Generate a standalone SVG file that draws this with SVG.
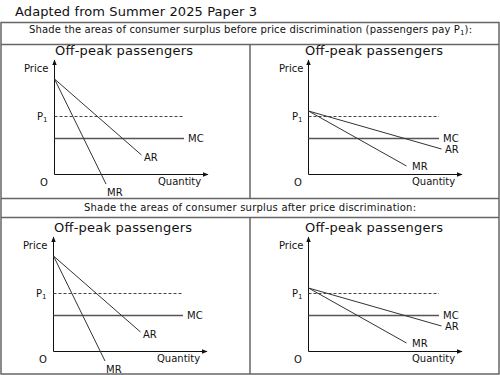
<svg xmlns="http://www.w3.org/2000/svg" width="500" height="375" viewBox="0 0 500 375">
<defs>
<style>
text{font-family:"DejaVu Sans","Liberation Sans",sans-serif;fill:#111}
.t{font-size:13px}
.h{font-size:10px}
.l{font-size:10px}
.sub{font-size:7px}
.ax{stroke:#111;stroke-width:1;fill:none}
.cv{stroke:#333;stroke-width:1;fill:none}
.mc{stroke:#555;stroke-width:1.5;fill:none}
.p1{stroke:#444;stroke-width:1;stroke-dasharray:3 2;fill:none}
.bd{stroke:#666;stroke-width:1.5;fill:none}
</style>
<marker id="arr" viewBox="0 0 10 10" refX="9" refY="5" markerWidth="6" markerHeight="6" orient="auto">
<path d="M0,1 L10,5 L0,9 z" fill="#111"/>
</marker>
<g id="chartL">
<line class="ax" x1="54.5" y1="174.5" x2="54.5" y2="60" marker-end="url(#arr)"/>
<line class="ax" x1="54.5" y1="174.5" x2="208" y2="174.5" marker-end="url(#arr)"/>
<line class="p1" x1="54.5" y1="116.5" x2="184" y2="116.5"/>
<line class="mc" x1="54.5" y1="138.5" x2="184" y2="138.5"/>
<line class="cv" x1="54.5" y1="79" x2="141.5" y2="155"/>
<line class="cv" x1="54.5" y1="79" x2="106" y2="184"/>
<text class="t" x="55" y="55" textLength="138" lengthAdjust="spacing">Off-peak passengers</text>
<text class="l" x="24" y="72">Price</text>
<text class="l" x="37" y="120">P<tspan class="sub" dy="2">1</tspan></text>
<text class="l" x="40" y="186">O</text>
<text class="l" x="158" y="185">Quantity</text>
<text class="l" x="188" y="142">MC</text>
<text class="l" x="144" y="161">AR</text>
<text class="l" x="107" y="196">MR</text>
</g>
<g id="chartR">
<line class="ax" x1="308.5" y1="174.5" x2="308.5" y2="60" marker-end="url(#arr)"/>
<line class="ax" x1="308.5" y1="174.5" x2="462" y2="174.5" marker-end="url(#arr)"/>
<line class="p1" x1="308.5" y1="116.5" x2="439" y2="116.5"/>
<line class="mc" x1="308.5" y1="138.5" x2="439" y2="138.5"/>
<line class="cv" x1="308.5" y1="111" x2="441.5" y2="149"/>
<line class="cv" x1="308.5" y1="111" x2="406.5" y2="166"/>
<text class="t" x="305" y="55" textLength="138" lengthAdjust="spacing">Off-peak passengers</text>
<text class="l" x="279" y="72">Price</text>
<text class="l" x="292" y="120">P<tspan class="sub" dy="2">1</tspan></text>
<text class="l" x="294" y="186">O</text>
<text class="l" x="412" y="185">Quantity</text>
<text class="l" x="443" y="142">MC</text>
<text class="l" x="445" y="153">AR</text>
<text class="l" x="412" y="170">MR</text>
</g>
</defs>
<rect x="0" y="0" width="500" height="375" fill="#fff"/>
<text id="title" class="t" x="15" y="16" textLength="242" lengthAdjust="spacing">Adapted from Summer 2025 Paper 3</text>
<g id="frame">
<rect class="bd" x="1" y="22.5" width="498" height="351.5"/>
<line class="bd" x1="1" y1="44.5" x2="499" y2="44.5"/>
<line class="bd" x1="1" y1="198.5" x2="499" y2="198.5"/>
<line class="bd" x1="1" y1="217.5" x2="499" y2="217.5"/>
<line class="bd" x1="250" y1="44.5" x2="250" y2="198.5"/>
<line class="bd" x1="250" y1="217.5" x2="250" y2="374"/>
</g>
<g id="header-before">
<text class="h" x="29" y="33" textLength="443" lengthAdjust="spacing">Shade the areas of consumer surplus before price discrimination (passengers pay P<tspan class="sub" dy="2">1</tspan><tspan dy="-2">):</tspan></text>
</g>
<g id="header-after">
<text class="h" x="84" y="211" textLength="332" lengthAdjust="spacing">Shade the areas of consumer surplus after price discrimination:</text>
</g>
<g id="before-left"><use href="#chartL"/></g>
<g id="before-right"><use href="#chartR"/></g>
<g id="after-left" transform="translate(-1,177)"><use href="#chartL"/></g>
<g id="after-right" transform="translate(0,177)"><use href="#chartR"/></g>
</svg>
